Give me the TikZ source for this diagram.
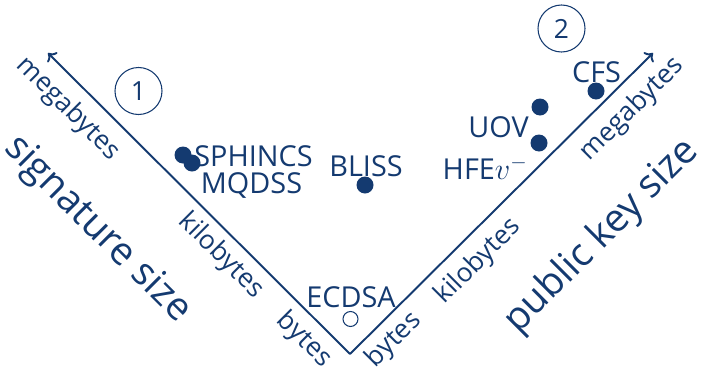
\documentclass[tikz,border=0pt]{standalone}
\usepackage{fontspec}
\setmainfont{Open Sans}
\usepackage{tikz}
\usetikzlibrary{arrows.meta}
\definecolor{schemeblue}{RGB}{20,58,112}

\begin{document}
\begin{tikzpicture}[
  >={To[length=4pt,width=8pt]},
  every node/.style={text=schemeblue, font=\fontsize{15}{18}\selectfont},
  scheme/.style={circle, fill=schemeblue, inner sep=0pt, minimum size=0.34cm},
  classic/.style={circle, draw=schemeblue, line width=0.6pt, inner sep=0pt, minimum size=0.30cm},
  scheme label/.style={inner sep=1pt, text depth=0pt, font=\fontsize{16.4}{19}\selectfont},
  unit/.style={inner sep=0pt},
  axis title/.style={font=\fontsize{22}{26}\selectfont, inner sep=0pt},
  phase/.style={circle, draw=schemeblue, line width=0.6pt, inner sep=0pt, minimum size=0.94cm}
]
\useasboundingbox (0,0) rectangle (14.04,7.38);

% the two size axes
\coordinate (origin) at (7.00,0.30);
\coordinate (sigtip) at (0.96,6.32);
\coordinate (pktip) at (13.06,6.32);
\draw [schemeblue, line width=1.1pt] [->] (origin) -- (sigtip);
\draw [schemeblue, line width=1.1pt] [->] (origin) -- (pktip);

\node [unit, rotate=-45] (sigbytes) at (6.08,0.58) {bytes};
\node [unit, rotate=-45] (sigkilo) at (4.42,2.26) {kilobytes};
\node [unit, rotate=-45] (sigmega) at (1.36,5.20) {megabytes};
\node [unit, rotate=45] (pkbytes) at (7.88,0.58) {bytes};
\node [unit, rotate=45] (pkkilo) at (9.57,2.15) {kilobytes};
\node [unit, rotate=45] (pkmega) at (12.65,5.19) {megabytes};
\node [axis title, rotate=-45] (sigtitle) at (1.94,2.78) {signature size};
\node [axis title, rotate=45] (pktitle) at (12.04,2.65) {public key size};

\node [phase] (phase1) at (2.77,5.56) {1};
\node [phase] (phase2) at (11.23,6.81) {2};

% schemes
\node [scheme] (sphincs) at (3.66,4.28) {};
\node [scheme] (mqdss) at (3.84,4.12) {};
\node [scheme] (bliss) at (7.30,3.68) {};
\node [classic] (ecdsa) at (7.01,1.00) {};
\node [scheme] (uov) at (10.80,5.24) {};
\node [scheme] (hfe) at (10.78,4.52) {};
\node [scheme] (cfs) at (11.92,5.56) {};

\node [scheme label] (sphincslabel) at (5.07,4.25) {SPHINCS};
\node [scheme label] (mqdsslabel) at (5.03,3.72) {MQDSS};
\node [scheme label] (blisslabel) at (7.32,4.06) {BLISS};
\node [scheme label] (ecdsalabel) at (7.02,1.43) {ECDSA};
\node [scheme label, anchor=east] (uovlabel) at (10.615,4.84) {UOV};
\node [scheme label, anchor=east] (hfelabel) at (10.595,4.03) {HFE$v^-$};
\node [scheme label] (cfslabel) at (11.93,5.93) {CFS};

\end{tikzpicture}
\end{document}
